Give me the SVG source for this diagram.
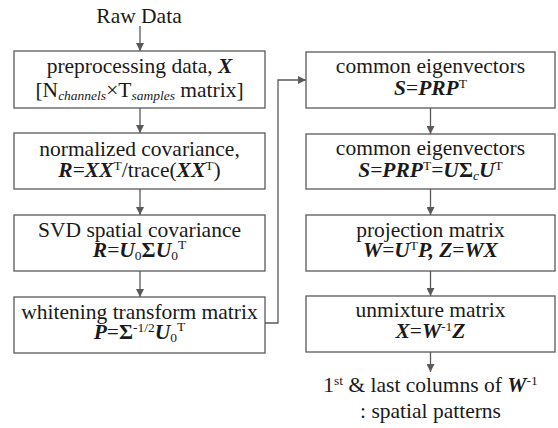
<svg xmlns="http://www.w3.org/2000/svg" width="558" height="428" viewBox="0 0 558 428" font-family="'Liberation Serif','Times New Roman',serif">
<defs>
<marker id="arr" viewBox="0 0 10 10" refX="10" refY="5" markerWidth="8" markerHeight="8" markerUnits="userSpaceOnUse" orient="auto">
<path d="M0,0 L10,5 L0,10 z" fill="#595959"/>
</marker>
<style>
text{font-family:"Liberation Serif","Times New Roman",serif;font-size:21.5px;fill:#1a1a1a;text-anchor:middle}
.box{fill:#fff;stroke:#595959;stroke-width:1.3}
.con{fill:none;stroke:#595959;stroke-width:1.3;marker-end:url(#arr)}
.bi{font-weight:bold;font-style:italic}
.b{font-weight:bold}
.i{font-style:italic}
.s{font-size:13.5px}
</style>
</defs>
<rect width="558" height="428" fill="#fff"/>
<g id="connectors">
<line class="con" x1="140" y1="26" x2="140" y2="51"/>
<line class="con" x1="140" y1="108" x2="140" y2="133"/>
<line class="con" x1="140" y1="189" x2="140" y2="215"/>
<line class="con" x1="140" y1="271" x2="140" y2="297"/>
<polyline class="con" points="265,323 278,323 278,80 306,80"/>
<line class="con" x1="430.5" y1="108" x2="430.5" y2="134"/>
<line class="con" x1="430.5" y1="189" x2="430.5" y2="215"/>
<line class="con" x1="430.5" y1="271" x2="430.5" y2="296"/>
<line class="con" x1="430.5" y1="352" x2="430.5" y2="372"/>
</g>
<g id="raw"><text x="139" y="22.5">Raw Data</text></g>
<g id="n1">
<rect class="box" x="14" y="51" width="251" height="57"/>
<text x="139.5" y="73">preprocessing data, <tspan class="bi">X</tspan></text>
<text x="139.5" y="97">[N<tspan class="i s" dy="3">channels</tspan><tspan dy="-3">×T</tspan><tspan class="i s" dy="3">samples</tspan><tspan dy="-3"> matrix]</tspan></text>
</g>
<g id="n2">
<rect class="box" x="14" y="133" width="251" height="56"/>
<text x="139.5" y="156">normalized covariance,</text>
<text x="139.5" y="177"><tspan class="bi">R</tspan>=<tspan class="bi">XX</tspan><tspan class="s" dy="-7">T</tspan><tspan dy="7">/trace(</tspan><tspan class="bi">XX</tspan><tspan class="s" dy="-7">T</tspan><tspan dy="7">)</tspan></text>
</g>
<g id="n3">
<rect class="box" x="14" y="215" width="251" height="56"/>
<text x="139.5" y="237">SVD spatial covariance</text>
<text x="139.5" y="257"><tspan class="bi">R</tspan>=<tspan class="bi">U</tspan><tspan class="s" dy="3">0</tspan><tspan class="b" dy="-3">Σ</tspan><tspan class="bi">U</tspan><tspan class="s" dy="3">0</tspan><tspan class="s" dy="-11">T</tspan></text>
</g>
<g id="n4">
<rect class="box" x="14" y="297" width="251" height="56"/>
<text x="139.5" y="319">whitening transform matrix</text>
<text x="139.5" y="339"><tspan class="bi">P</tspan>=<tspan class="b">Σ</tspan><tspan class="s" dy="-7">-1/2</tspan><tspan class="bi" dy="7">U</tspan><tspan class="s" dy="3">0</tspan><tspan class="s" dy="-11">T</tspan></text>
</g>
<g id="n5">
<rect class="box" x="306" y="52" width="249" height="56"/>
<text x="430.5" y="73">common eigenvectors</text>
<text x="430.5" y="95"><tspan class="bi">S</tspan>=<tspan class="bi">PRP</tspan><tspan class="s" dy="-7">T</tspan></text>
</g>
<g id="n6">
<rect class="box" x="306" y="134" width="249" height="55"/>
<text x="430.5" y="155">common eigenvectors</text>
<text x="430.5" y="177"><tspan class="bi">S</tspan>=<tspan class="bi">PRP</tspan><tspan class="s" dy="-7">T</tspan><tspan dy="7">=</tspan><tspan class="bi">U</tspan><tspan class="b">Σ</tspan><tspan class="i s" dy="3">c</tspan><tspan class="bi" dy="-3">U</tspan><tspan class="s" dy="-7">T</tspan></text>
</g>
<g id="n7">
<rect class="box" x="306" y="215" width="249" height="56"/>
<text x="430.5" y="237">projection matrix</text>
<text x="430.5" y="257"><tspan class="bi">W</tspan>=<tspan class="bi">U</tspan><tspan class="s" dy="-7">T</tspan><tspan class="bi" dy="7">P, Z</tspan>=<tspan class="bi">WX</tspan></text>
</g>
<g id="n8">
<rect class="box" x="306" y="296" width="249" height="56"/>
<text x="430.5" y="317">unmixture matrix</text>
<text x="430.5" y="338"><tspan class="bi">X</tspan>=<tspan class="bi">W</tspan><tspan class="s" dy="-7">-1</tspan><tspan class="bi" dy="7">Z</tspan></text>
</g>
<g id="out">
<text x="430.5" y="392">1<tspan class="s" dy="-7">st</tspan><tspan dy="7"> &amp; last columns of </tspan><tspan class="bi">W</tspan><tspan class="s" dy="-7">-1</tspan></text>
<text x="430.5" y="418">: spatial patterns</text>
</g>
</svg>
